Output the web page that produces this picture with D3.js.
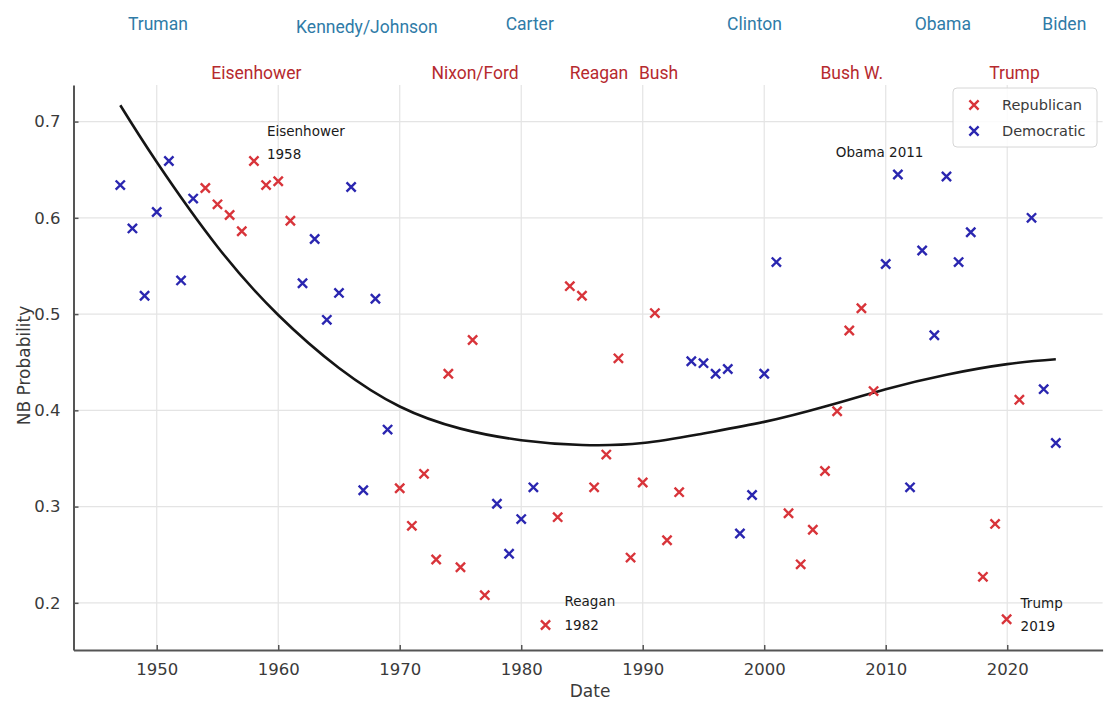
<!DOCTYPE html>
<html>
<head>
<meta charset="utf-8">
<script src="https://cdn.jsdelivr.net/npm/d3@7"></script>
<style>
  html, body { margin: 0; padding: 0; background: #fff; }
  svg { display: block; }
</style>
</head>
<body>
<svg id="chart" width="1105" height="704"></svg>
<script>
// ---------- data ----------
const democraticYears = [1947, 1948, 1949, 1950, 1951, 1952, 1953,
  1962, 1963, 1964, 1965, 1966, 1967, 1968, 1969,
  1978, 1979, 1980, 1981,
  1994, 1995, 1996, 1997, 1998, 1999, 2000, 2001,
  2010, 2011, 2012, 2013, 2014, 2015, 2016, 2017,
  2022, 2023, 2024];
const democraticValues = [0.634, 0.589, 0.519, 0.606, 0.659, 0.535, 0.620,
  0.532, 0.578, 0.494, 0.522, 0.632, 0.317, 0.516, 0.380,
  0.303, 0.251, 0.287, 0.320,
  0.451, 0.449, 0.438, 0.443, 0.272, 0.312, 0.438, 0.554,
  0.552, 0.645, 0.320, 0.566, 0.478, 0.643, 0.554, 0.585,
  0.600, 0.422, 0.366];

const republicanYears = [1954, 1955, 1956, 1957, 1958, 1959, 1960, 1961,
  1970, 1971, 1972, 1973, 1974, 1975, 1976, 1977,
  1982, 1983, 1984, 1985, 1986, 1987, 1988, 1989, 1990, 1991, 1992, 1993,
  2002, 2003, 2004, 2005, 2006, 2007, 2008, 2009,
  2018, 2019, 2019.95, 2021];
const republicanValues = [0.631, 0.614, 0.603, 0.586, 0.659, 0.634, 0.638, 0.597,
  0.319, 0.280, 0.334, 0.245, 0.438, 0.237, 0.473, 0.208,
  0.177, 0.289, 0.529, 0.519, 0.320, 0.354, 0.454, 0.247, 0.325, 0.501, 0.265, 0.315,
  0.293, 0.240, 0.276, 0.337, 0.399, 0.483, 0.506, 0.420,
  0.227, 0.282, 0.183, 0.411];

// smoothed trend
const trendYears  = [1947, 1950, 1955, 1960, 1965, 1970, 1975, 1980, 1985,
  1990, 1995, 2000, 2005, 2010, 2015, 2020, 2024];
const trendValues = [0.717, 0.658, 0.570, 0.499, 0.444, 0.404, 0.381, 0.369, 0.364,
  0.366, 0.376, 0.388, 0.404, 0.422, 0.437, 0.448, 0.453];

const xTickValues = [1950, 1960, 1970, 1980, 1990, 2000, 2010, 2020];
const yTickValues = [0.2, 0.3, 0.4, 0.5, 0.6, 0.7];

// administrations shown along the top
const presidentNames   = ["Truman", "Eisenhower", "Kennedy/Johnson", "Nixon/Ford", "Carter",
  "Reagan", "Bush", "Clinton", "Bush W.", "Obama", "Trump", "Biden"];
const presidentParties = ["D", "R", "D", "R", "D", "R", "R", "D", "R", "D", "R", "D"];
const presidentLabelYears = [1950.1, 1958.2, 1967.3, 1976.2, 1980.7,
  1986.4, 1991.3, 1999.2, 2007.2, 2014.7, 2020.6, 2024.7];

// annotated observations
const noteLines = [["Eisenhower", "1958"], ["Obama 2011"], ["Reagan", "1982"], ["Trump", "2019"]];
const noteYears = [1958, 2011, 1982, 2019.95];

const legendLabels = ["Republican", "Democratic"];

// ---------- layout ----------
const plot = { left: 73.5, right: 1102.6, top: 85, bottom: 650 };
const colors = { R: "#d8343a", D: "#2a26b0", labelR: "#b62a2e", labelD: "#2f7ba7",
  grid: "#e4e4e4", axis: "#555", text: "#3a3a3a" };
const noteOffsets = [
  { dx: 13, dy: [-25, -2] },
  { dx: -62, dy: [-18] },
  { dx: 19, dy: [-19, 5] },
  { dx: 14, dy: [-11, 12] }
];
const axisFont = "DejaVu Sans, sans-serif";

const svg = d3.select("#chart");

const x = d3.scaleLinear().domain([1943.15, 2027.85]).range([plot.left, plot.right]);
const y = d3.scaleLinear().domain([0.151, 0.738]).range([plot.bottom, plot.top]);

// grid
const grid = svg.append("g");
grid.selectAll("line.gx").data(xTickValues).join("line")
  .attr("x1", d => x(d)).attr("x2", d => x(d))
  .attr("y1", plot.top).attr("y2", plot.bottom)
  .attr("stroke", colors.grid).attr("stroke-width", 1.2);
grid.selectAll("line.gy").data(yTickValues).join("line")
  .attr("x1", plot.left).attr("x2", plot.right)
  .attr("y1", d => y(d)).attr("y2", d => y(d))
  .attr("stroke", colors.grid).attr("stroke-width", 1.2);

// axes
const xAxis = d3.axisBottom(x).tickValues(xTickValues).tickFormat(d3.format("d"))
  .tickSizeInner(-5).tickSizeOuter(0).tickPadding(13);
const yAxis = d3.axisLeft(y).tickValues(yTickValues).tickFormat(d3.format(".1f"))
  .tickSizeInner(-5).tickSizeOuter(0).tickPadding(13);

const gx = svg.append("g").attr("transform", `translate(0,${plot.bottom})`).call(xAxis);
const gy = svg.append("g").attr("transform", `translate(${plot.left},0)`).call(yAxis);
[gx, gy].forEach(g => {
  g.select(".domain").attr("stroke", colors.axis).attr("stroke-width", 2);
  g.selectAll(".tick line").attr("stroke", colors.axis).attr("stroke-width", 1.5);
  g.selectAll(".tick text").attr("fill", colors.text)
    .style("font-family", axisFont).style("font-size", "16.5px");
});

// axis titles
svg.append("text")
  .attr("x", (plot.left + plot.right) / 2 + 2).attr("y", 697)
  .attr("text-anchor", "middle").attr("fill", colors.text)
  .style("font-family", axisFont).style("font-size", "17px")
  .text("Date");
svg.append("text")
  .attr("transform", `translate(30,${(plot.top + plot.bottom) / 2 - 2}) rotate(-90)`)
  .attr("text-anchor", "middle").attr("fill", colors.text)
  .style("font-family", axisFont).style("font-size", "17px")
  .text("NB Probability");

// trend line
const line = d3.line().x(d => x(d[0])).y(d => y(d[1])).curve(d3.curveNatural);
svg.append("path")
  .datum(d3.zip(trendYears, trendValues))
  .attr("d", line)
  .attr("fill", "none").attr("stroke", "#151515").attr("stroke-width", 2.6);

// x markers
const r = 4.6;
const crossPath = `M${-r},${-r}L${r},${r}M${-r},${r}L${r},${-r}`;
function drawSeries(years, values, color) {
  svg.append("g").selectAll("path").data(d3.zip(years, values)).join("path")
    .attr("transform", d => `translate(${x(d[0])},${y(d[1])})`)
    .attr("d", crossPath)
    .attr("stroke", color).attr("stroke-width", 2.4).attr("fill", "none");
}
drawSeries(republicanYears, republicanValues, colors.R);
drawSeries(democraticYears, democraticValues, colors.D);

// annotations
const allYears = republicanYears.concat(democraticYears);
const allValues = republicanValues.concat(democraticValues);
noteLines.forEach((lines, i) => {
  const idx = allYears.indexOf(noteYears[i]);
  const px = x(allYears[idx]), py = y(allValues[idx]);
  const off = noteOffsets[i];
  const t = svg.append("text").attr("fill", "#1a1a1a")
    .style("font-family", axisFont).style("font-size", "13.5px");
  lines.forEach((ln, j) => {
    t.append("tspan").attr("x", px + off.dx).attr("y", py + off.dy[j]).text(ln);
  });
});

// administration labels
svg.append("g").selectAll("text").data(d3.zip(presidentNames, presidentParties, presidentLabelYears))
  .join("text")
  .attr("x", d => x(d[2]))
  .attr("y", d => d[1] === "D" ? (d[0] === "Kennedy/Johnson" ? 33 : 30) : 79)
  .attr("text-anchor", "middle")
  .attr("fill", d => d[1] === "D" ? colors.labelD : colors.labelR)
  .style("font-family", "Roboto, sans-serif").style("font-size", "17.5px")
  .text(d => d[0]);

// legend
const legend = svg.append("g").attr("transform", "translate(953,88)");
legend.append("rect").attr("width", 144).attr("height", 59).attr("rx", 4)
  .attr("fill", "#fff").attr("fill-opacity", 0.85)
  .attr("stroke", "#d6d6d6").attr("stroke-width", 1);
[colors.R, colors.D].forEach((c, i) => {
  legend.append("path").attr("transform", `translate(21,${17 + i * 26})`)
    .attr("d", crossPath).attr("stroke", c).attr("stroke-width", 2.4).attr("fill", "none");
  legend.append("text").attr("x", 49).attr("y", 22 + i * 26)
    .attr("fill", colors.text)
    .style("font-family", axisFont).style("font-size", "14.5px")
    .text(legendLabels[i]);
});
</script>
</body>
</html>
